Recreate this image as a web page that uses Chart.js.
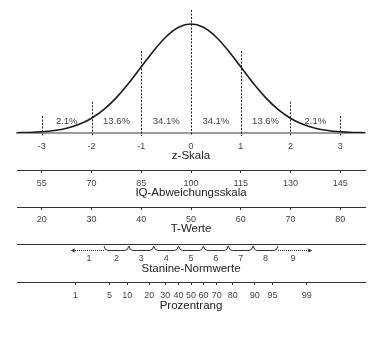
<!DOCTYPE html>
<html>
<head>
<meta charset="utf-8">
<script src="https://cdn.jsdelivr.net/npm/chart.js@4.4.0/dist/chart.umd.min.js"></script>
<style>
  html, body { margin: 0; padding: 0; background: #fff; }
  #wrap { width: 377px; height: 349px; position: relative; }
</style>
</head>
<body>
<div id="wrap"><canvas id="normChart"></canvas></div>
<script>
// Normal curve, sampled every quarter z unit
const curveZ = [-3.5, -3.25, -3, -2.75, -2.5, -2.25, -2, -1.75, -1.5, -1.25, -1, -0.75, -0.5, -0.25, 0,
  0.25, 0.5, 0.75, 1, 1.25, 1.5, 1.75, 2, 2.25, 2.5, 2.75, 3, 3.25, 3.5];
const curveDensity = [0.0009, 0.0020, 0.0044, 0.0091, 0.0175, 0.0317, 0.0540, 0.0863, 0.1295, 0.1826, 0.2420, 0.3011, 0.3521, 0.3867, 0.3989,
  0.3867, 0.3521, 0.3011, 0.2420, 0.1826, 0.1295, 0.0863, 0.0540, 0.0317, 0.0175, 0.0091, 0.0044, 0.0020, 0.0009];

// Vertical guides at whole z values and the share of cases between them
const guideZ = [-3, -2, -1, 0, 1, 2, 3];
const guideTop = [0.062, 0.114, 0.30, 0.45, 0.30, 0.114, 0.062];
const bandZ = [-2.5, -1.5, -0.5, 0.5, 1.5, 2.5];
const bandLabels = ["2.1%", "13.6%", "34.1%", "34.1%", "13.6%", "2.1%"];
const bandLabelY = 0.044;

// Scales below the curve
const zTicks = [-3, -2, -1, 0, 1, 2, 3];
const iqTicks = [55, 70, 85, 100, 115, 130, 145];
const tTicks = [20, 30, 40, 50, 60, 70, 80];
const stanineLabels = ["1", "2", "3", "4", "5", "6", "7", "8", "9"];
const stanineZ = [-2.05, -1.5, -1, -0.5, 0, 0.5, 1, 1.5, 2.05];
const stanineEdges = [-1.75, -1.25, -0.75, -0.25, 0.25, 0.75, 1.25, 1.75];
const stanineArrowEnds = [-2.42, 2.44];
const prLabels = ["1", "5", "10", "20", "30", "40", "50", "60", "70", "80", "90", "95", "99"];
const prZ = [-2.33, -1.64, -1.28, -0.84, -0.52, -0.25, 0, 0.25, 0.52, 0.84, 1.28, 1.64, 2.33];

const FONT = '"Liberation Sans", Arial, sans-serif';
const tickFont = { family: FONT, size: 9 };
const titleFont = { family: FONT, size: 11.5 };

function bottomAxis(opts) {
  return {
    type: "linear",
    axis: "x",
    position: "bottom",
    weight: opts.weight,
    min: opts.min,
    max: opts.max,
    afterBuildTicks: (axis) => { axis.ticks = opts.ticks.map(v => ({ value: v })); },
    afterFit: (axis) => { axis.height = opts.height; },
    border: { display: true, color: opts.borderColor || "#333", width: opts.borderWidth || 1 },
    grid: { drawOnChartArea: false, drawTicks: opts.tickMarks, tickLength: 3, color: "#333", lineWidth: 1 },
    ticks: {
      autoSkip: false,
      maxRotation: 0,
      padding: opts.tickPadding,
      color: "#444",
      font: tickFont,
      callback: opts.labels ? (v, i) => opts.labels[i] : (v) => String(v)
    },
    title: {
      display: true,
      text: opts.title,
      color: "#222",
      font: titleFont,
      padding: { top: 0, bottom: opts.titlePadding }
    }
  };
}

const guidePlugin = {
  id: "zGuides",
  afterDatasetsDraw(chart) {
    const { ctx, scales: { x, y } } = chart;
    ctx.save();
    ctx.strokeStyle = "#222";
    ctx.lineWidth = 1;
    ctx.setLineDash([2, 1.5]);
    guideZ.forEach((z, i) => {
      const px = Math.round(x.getPixelForValue(z)) + 0.5;
      ctx.beginPath();
      ctx.moveTo(px, y.getPixelForValue(guideTop[i]));
      ctx.lineTo(px, y.getPixelForValue(0) + 3);
      ctx.stroke();
    });
    ctx.setLineDash([]);
    ctx.fillStyle = "#444";
    ctx.font = "9.5px " + FONT;
    ctx.textAlign = "center";
    ctx.textBaseline = "middle";
    bandLabels.forEach((t, i) => {
      ctx.fillText(t, x.getPixelForValue(bandZ[i]), y.getPixelForValue(bandLabelY));
    });
    ctx.restore();
  }
};

// Braces between stanine boundaries plus the open-ended arrows
const staninePlugin = {
  id: "stanineBraces",
  afterDraw(chart) {
    const s = chart.scales.stanine;
    const { ctx } = chart;
    const yTop = s.top + 2;
    const yBot = s.top + 6.5;
    ctx.save();
    ctx.strokeStyle = "#333";
    ctx.lineWidth = 1;
    for (let i = 0; i < stanineEdges.length - 1; i++) {
      const a = s.getPixelForValue(stanineEdges[i]);
      const b = s.getPixelForValue(stanineEdges[i + 1]);
      ctx.beginPath();
      ctx.moveTo(a, yTop);
      ctx.quadraticCurveTo(a + 1, yBot, a + 4, yBot);
      ctx.lineTo(b - 4, yBot);
      ctx.quadraticCurveTo(b - 1, yBot, b, yTop);
      ctx.stroke();
    }
    const first = s.getPixelForValue(stanineEdges[0]);
    const last = s.getPixelForValue(stanineEdges[stanineEdges.length - 1]);
    const left = s.getPixelForValue(stanineArrowEnds[0]);
    const right = s.getPixelForValue(stanineArrowEnds[1]);
    ctx.setLineDash([1, 1]);
    ctx.beginPath();
    ctx.moveTo(first, yBot);
    ctx.lineTo(left + 3, yBot);
    ctx.moveTo(last, yBot);
    ctx.lineTo(right - 3, yBot);
    ctx.stroke();
    ctx.setLineDash([]);
    ctx.fillStyle = "#333";
    ctx.beginPath();
    ctx.moveTo(left, yBot);
    ctx.lineTo(left + 4, yBot - 2);
    ctx.lineTo(left + 4, yBot + 2);
    ctx.closePath();
    ctx.moveTo(right, yBot);
    ctx.lineTo(right - 4, yBot - 2);
    ctx.lineTo(right - 4, yBot + 2);
    ctx.closePath();
    ctx.fill();
    ctx.restore();
  }
};

new Chart(document.getElementById("normChart"), {
  type: "line",
  data: {
    datasets: [{
      data: curveZ.map((z, i) => ({ x: z, y: curveDensity[i] })),
      borderColor: "#1a1a1a",
      borderWidth: 1.6,
      pointRadius: 0,
      fill: false,
      cubicInterpolationMode: "monotone"
    }]
  },
  options: {
    responsive: true,
    maintainAspectRatio: false,
    animation: false,
    layout: { padding: { left: 17, right: 12, top: 10, bottom: 33 } },
    plugins: {
      legend: { display: false },
      tooltip: { enabled: false }
    },
    scales: {
      y: { type: "linear", min: 0, max: 0.45, display: false },
      x: bottomAxis({
        weight: 0, min: -3.5, max: 3.5, ticks: zTicks, height: 37,
        borderColor: "#9a9a9a", borderWidth: 2, tickMarks: false,
        tickPadding: 8, title: "z-Skala", titlePadding: 7
      }),
      iq: bottomAxis({
        weight: 1, min: 47.5, max: 152.5, ticks: iqTicks, height: 37,
        tickMarks: true, tickPadding: 5, title: "IQ-Abweichungsskala", titlePadding: 7
      }),
      tw: bottomAxis({
        weight: 2, min: 15, max: 85, ticks: tTicks, height: 37,
        tickMarks: true, tickPadding: 4, title: "T-Werte", titlePadding: 8
      }),
      stanine: bottomAxis({
        weight: 3, min: -3.5, max: 3.5, ticks: stanineZ, labels: stanineLabels, height: 38,
        tickMarks: false, tickPadding: 9, title: "Stanine-Normwerte", titlePadding: 6
      }),
      pr: bottomAxis({
        weight: 4, min: -3.5, max: 3.5, ticks: prZ, labels: prLabels, height: 34,
        tickMarks: true, tickPadding: 5, title: "Prozentrang", titlePadding: 3
      })
    }
  },
  plugins: [guidePlugin, staninePlugin]
});
</script>
</body>
</html>
